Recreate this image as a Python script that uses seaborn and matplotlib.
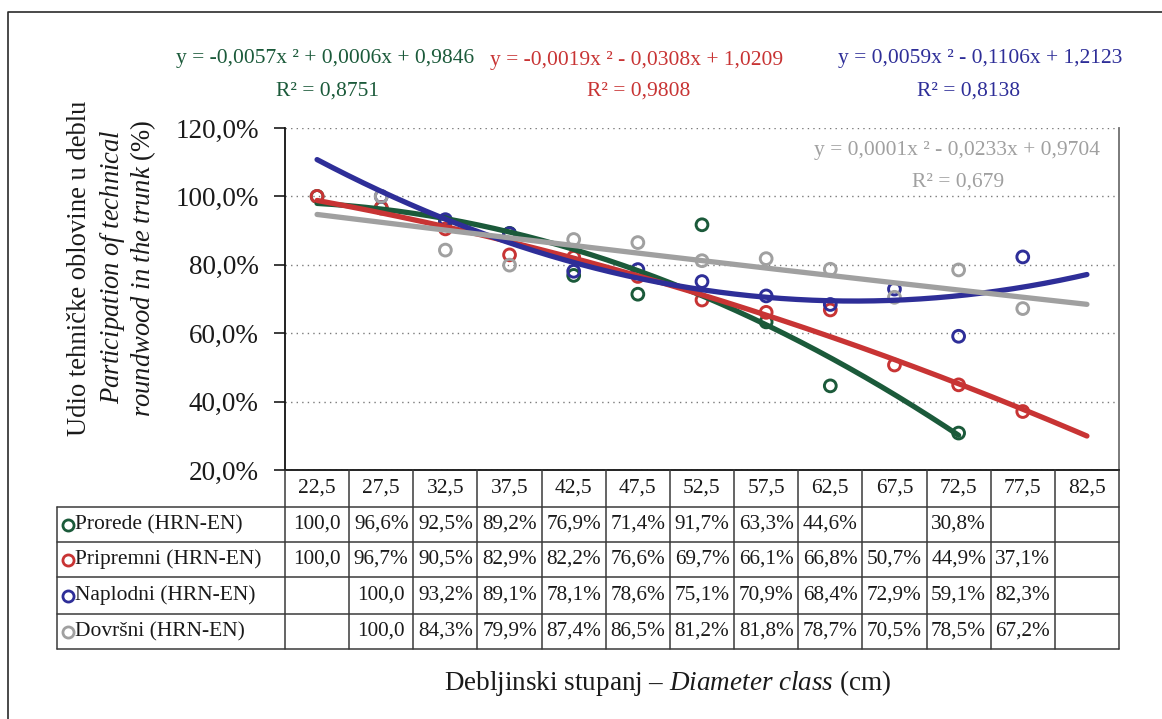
import numpy as np
import pandas as pd
import matplotlib
matplotlib.use("Agg")
import matplotlib.pyplot as plt
import matplotlib.transforms as mtransforms
from matplotlib.lines import Line2D
import seaborn as sns

# ---- data -------------------------------------------------------------
classes = ["22,5", "27,5", "32,5", "37,5", "42,5", "47,5", "52,5",
           "57,5", "62,5", "67,5", "72,5", "77,5", "82,5"]
series_names = ["Prorede (HRN-EN)", "Pripremni (HRN-EN)",
                "Naplodni (HRN-EN)", "Dovršni (HRN-EN)"]
nan = np.nan
prorede = [100.0, 96.6, 92.5, 89.2, 76.9, 71.4, 91.7, 63.3, 44.6, nan, 30.8, nan, nan]
pripremni = [100.0, 96.7, 90.5, 82.9, 82.2, 76.6, 69.7, 66.1, 66.8, 50.7, 44.9, 37.1, nan]
naplodni = [nan, 100.0, 93.2, 89.1, 78.1, 78.6, 75.1, 70.9, 68.4, 72.9, 59.1, 82.3, nan]
dovrsni = [nan, 100.0, 84.3, 79.9, 87.4, 86.5, 81.2, 81.8, 78.7, 70.5, 78.5, 67.2, nan]

# polynomial trend lines y = a*x^2 + b*x + c  (x = class number 1..13)
trend_prorede = [-0.0057, 0.0006, 0.9846]
trend_pripremni = [-0.0019, -0.0308, 1.0209]
trend_naplodni = [0.0059, -0.1106, 1.2123]
trend_dovrsni = [0.0001, -0.0233, 0.9704]
r2_values = [0.8751, 0.9808, 0.8138, 0.679]
trend_spans = [[1, 11], [1, 13], [1, 13], [1, 13]]

colors = ["#1b5a3a", "#c83434", "#2e2e98", "#a0a0a0"]

# ---- style ------------------------------------------------------------
sns.set_theme(style="white")
plt.rcParams["font.family"] = ["Liberation Serif", "DejaVu Serif"]
plt.rcParams["mathtext.fontset"] = "custom"
plt.rcParams["mathtext.rm"] = "Liberation Serif"
plt.rcParams["mathtext.it"] = "Liberation Serif:italic"
plt.rcParams["text.color"] = "#1a1a1a"

W, H = 1162, 719
fig = plt.figure(figsize=(W / 100, H / 100), dpi=100)
fig.patch.set_facecolor("white")


def fx(px):
    return px / W


def fy(py):
    return 1 - py / H


AX_L, AX_R, AX_T, AX_B = 285, 1119, 128, 470
ax = fig.add_axes([fx(AX_L), fy(AX_B), (AX_R - AX_L) / W, (AX_B - AX_T) / H])

xpos = np.arange(1, len(classes) + 1)
values = [prorede, pripremni, naplodni, dovrsni]
trends = [trend_prorede, trend_pripremni, trend_naplodni, trend_dovrsni]

df = pd.DataFrame({
    "series": np.repeat(series_names, len(classes)),
    "x": np.tile(xpos, len(series_names)),
    "value": np.concatenate([np.array(v, dtype=float) for v in values]) / 100.0,
}).dropna()

# observed points: open circles
for name, col in zip(series_names, colors):
    sub = df[df["series"] == name]
    sns.scatterplot(data=sub, x="x", y="value", ax=ax, color=col,
                    facecolor="none", edgecolor=col, linewidth=2.1, s=72,
                    zorder=3, legend=False)

# trend curves from the stated equations
for coef, span, col in zip(trends, trend_spans, colors):
    xs = np.linspace(span[0], span[1], 200)
    sns.lineplot(x=xs, y=np.polyval(coef, xs), ax=ax, color=col,
                 linewidth=3.8, zorder=4, legend=False)

ax.set_xlim(0.5, len(classes) + 0.5)
ax.set_ylim(0.2, 1.2)
yticks = [0.2, 0.4, 0.6, 0.8, 1.0, 1.2]
ax.set_yticks(yticks)
ax.set_yticklabels([f"{t * 100:.1f}%".replace(".", ",") for t in yticks])
ax.set_xticks([])
ax.set_xlabel("")
ax.set_ylabel("")
ax.tick_params(axis="y", direction="out", length=8, width=1.2, pad=11,
               labelsize=19.5, colors="#1a1a1a", left=True)
ax.yaxis.grid(True, linestyle=(0, (1, 3)), color="#7a7a7a", linewidth=1.0)
ax.xaxis.grid(False)
ax.set_axisbelow(True)
for side in ["left", "bottom"]:
    ax.spines[side].set_color("#111111")
    ax.spines[side].set_linewidth(1.3)
ax.spines["top"].set_visible(False)
ax.spines["right"].set_color("#707070")
ax.spines["right"].set_linewidth(1.3)


# ---- equation labels ---------------------------------------------------
def fmt_num(v):
    return f"{v:.4f}".replace(".", ",")


def equation(coef):
    a, b, c = coef
    s = f"y = {fmt_num(a)}x ²"
    for v, suffix in ((b, "x"), (c, "")):
        s += (" - " if v < 0 else " + ") + fmt_num(abs(v)) + suffix
    return s


def r2_text(r):
    return "R² = " + f"{r:g}".replace(".", ",")


eq_pos = [(325, 58, 327, 91), (637, 60, 639, 91),
          (980, 58, 969, 91), (957, 150, 958, 182)]
for coef, r, col, (x1, y1, x2, y2) in zip(trends, r2_values, colors, eq_pos):
    fig.text(fx(x1), fy(y1), equation(coef), color=col, fontsize=15.5,
             ha="center", va="center")
    fig.text(fx(x2), fy(y2), r2_text(r), color=col, fontsize=15.5,
             ha="center", va="center")

# ---- data table under the plot -----------------------------------------
line_col = "#3a3a3a"
lw_tab = 1.1
data_fig = mtransforms.blended_transform_factory(ax.transData, fig.transFigure)

row_edges = [470, 507, 542, 577, 614, 649]
TAB_L = 57

# horizontal rules
for py in row_edges[1:]:
    fig.add_artist(Line2D([fx(TAB_L), fx(AX_R)], [fy(py), fy(py)],
                          color=line_col, lw=lw_tab))
# left border of label column
fig.add_artist(Line2D([fx(TAB_L), fx(TAB_L)], [fy(row_edges[1]), fy(row_edges[-1])],
                      color=line_col, lw=lw_tab))
# column separators
for xb in np.arange(0.5, len(classes) + 1, 1.0):
    fig.add_artist(Line2D([xb, xb], [fy(row_edges[0]), fy(row_edges[-1])],
                          color=line_col, lw=lw_tab, transform=data_fig))

# header row: diameter classes
hy = (row_edges[0] + row_edges[1]) / 2
for xp, lab in zip(xpos, classes):
    fig.text(xp, fy(hy), lab, transform=data_fig, ha="center", va="center",
             fontsize=15.5)


def cell_text(v):
    if np.isnan(v):
        return ""
    if v >= 100:
        return f"{v:.1f}".replace(".", ",")
    return f"{v:.1f}%".replace(".", ",")


for i, (name, vals, col) in enumerate(zip(series_names, values, colors)):
    cy = (row_edges[i + 1] + row_edges[i + 2]) / 2
    fig.add_artist(Line2D([fx(68)], [fy(cy)], marker="o", markersize=8,
                          markerfacecolor="none", markeredgecolor=col,
                          markeredgewidth=2.0, linestyle="none"))
    fig.text(fx(75), fy(cy), name, ha="left", va="center", fontsize=15.5)
    for xp, v in zip(xpos, vals):
        t = cell_text(v)
        if t:
            fig.text(xp, fy(cy), t, transform=data_fig, ha="center",
                     va="center", fontsize=15.3)

# ---- axis titles -------------------------------------------------------
fig.text(fx(668), fy(683),
         r"Debljinski stupanj – $\mathit{Diameter\ class}$ (cm)",
         ha="center", va="center", fontsize=19.5)
fig.text(fx(80), fy(268), "Udio tehničke oblovine u deblu", rotation=90,
         ha="center", va="center", fontsize=19.2)
fig.text(fx(113), fy(267), r"$\mathit{Participation\ of\ technical}$",
         rotation=90, ha="center", va="center", fontsize=19.2)
fig.text(fx(143), fy(268), r"$\mathit{roundwood\ in\ the\ trunk}$ (%)",
         rotation=90, ha="center", va="center", fontsize=19.2)

# ---- outer frame -------------------------------------------------------
fig.add_artist(Line2D([fx(8), fx(8), fx(W + 5)], [fy(H + 5), fy(12), fy(12)],
                      color="#2a2a2a", lw=1.2))

fig.savefig("out.png", dpi=100)
